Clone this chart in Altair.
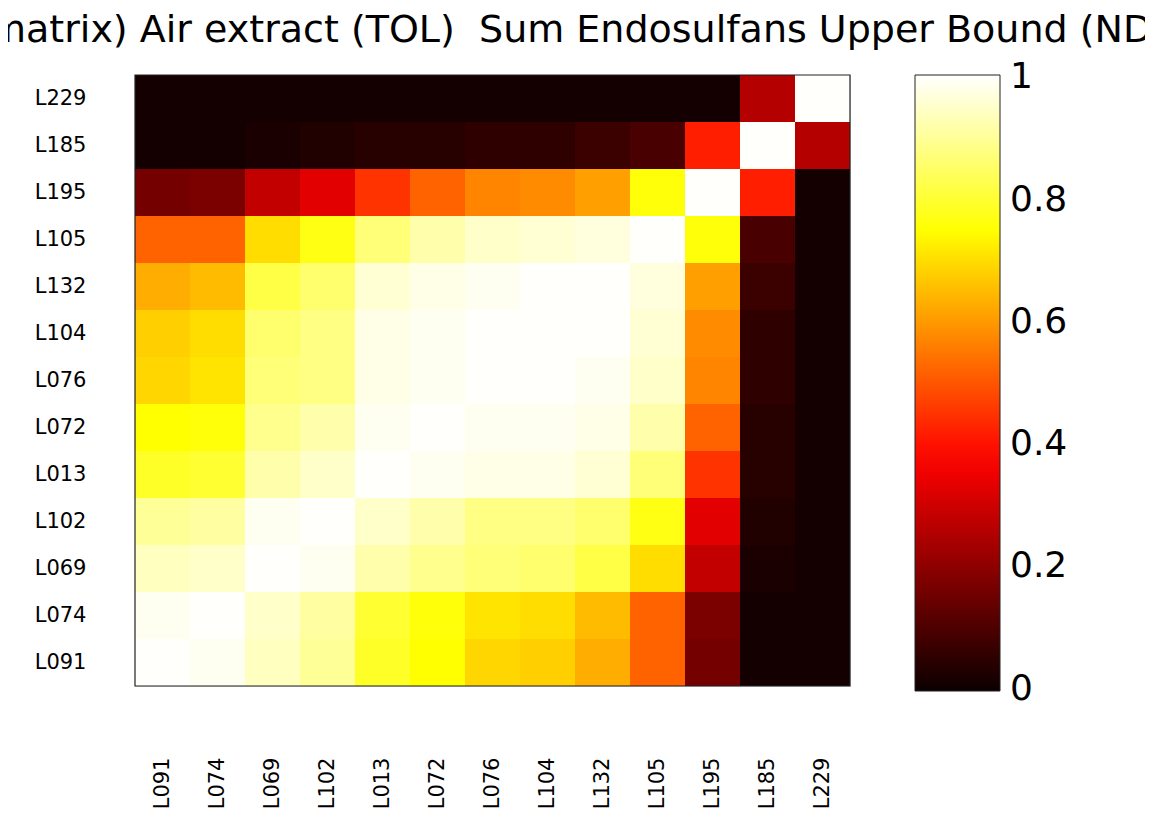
import altair as alt
import pandas as pd

labels = ["L091", "L074", "L069", "L102", "L013", "L072", "L076",
          "L104", "L132", "L105", "L195", "L185", "L229"]

# correlation rows (columns in the same order as `labels`)
row_L091 = [1.00, 0.99, 0.94, 0.90, 0.79, 0.75, 0.69, 0.68, 0.63, 0.52, 0.16, 0.01, 0.01]
row_L074 = [0.99, 1.00, 0.95, 0.91, 0.80, 0.76, 0.71, 0.70, 0.65, 0.52, 0.17, 0.01, 0.01]
row_L069 = [0.94, 0.95, 1.00, 0.99, 0.92, 0.89, 0.87, 0.86, 0.82, 0.70, 0.28, 0.02, 0.01]
row_L102 = [0.90, 0.91, 0.99, 1.00, 0.95, 0.92, 0.88, 0.88, 0.86, 0.77, 0.33, 0.03, 0.01]
row_L013 = [0.79, 0.80, 0.92, 0.95, 1.00, 0.99, 0.98, 0.98, 0.96, 0.87, 0.45, 0.04, 0.01]
row_L072 = [0.75, 0.76, 0.89, 0.92, 0.99, 1.00, 0.99, 0.99, 0.98, 0.92, 0.52, 0.04, 0.01]
row_L076 = [0.69, 0.71, 0.87, 0.88, 0.98, 0.99, 1.00, 1.00, 0.99, 0.95, 0.57, 0.05, 0.01]
row_L104 = [0.68, 0.70, 0.86, 0.88, 0.98, 0.99, 1.00, 1.00, 1.00, 0.96, 0.58, 0.05, 0.01]
row_L132 = [0.63, 0.65, 0.82, 0.86, 0.96, 0.98, 0.99, 1.00, 1.00, 0.97, 0.61, 0.07, 0.01]
row_L105 = [0.52, 0.52, 0.70, 0.77, 0.87, 0.92, 0.95, 0.96, 0.97, 1.00, 0.76, 0.09, 0.01]
row_L195 = [0.16, 0.17, 0.28, 0.33, 0.45, 0.52, 0.57, 0.58, 0.61, 0.76, 1.00, 0.42, 0.01]
row_L185 = [0.01, 0.01, 0.02, 0.03, 0.04, 0.04, 0.05, 0.05, 0.07, 0.09, 0.42, 1.00, 0.26]
row_L229 = [0.01, 0.01, 0.01, 0.01, 0.01, 0.01, 0.01, 0.01, 0.01, 0.01, 0.01, 0.26, 1.00]

rows = [row_L091, row_L074, row_L069, row_L102, row_L013, row_L072, row_L076,
        row_L104, row_L132, row_L105, row_L195, row_L185, row_L229]

colorbar_ticks = [0, 0.2, 0.4, 0.6, 0.8, 1]
title_text = "matrix) Air extract (TOL)\u00a0 Sum Endosulfans Upper Bound (ND"

records = []
for rname, vals in zip(labels, rows):
    for cname, v in zip(labels, vals):
        records.append({"row": rname, "col": cname, "value": v})
df = pd.DataFrame(records)

FONT = "DejaVu Sans"
W, H = 715, 611  # whole-pixel cells (13 x 55, 13 x 47)

# MATLAB "hot" colormap; tiny domain margin keeps colorbar end labels centred
hot_domain = [-0.004, 0.375, 0.75, 1.004]
hot_range = ["#0b0000", "#ff0000", "#ffff00", "#ffffff"]

heat = alt.Chart(df).mark_rect().encode(
    x=alt.X("col:N", sort=labels,
            scale=alt.Scale(paddingInner=0, paddingOuter=0),
            axis=alt.Axis(title=None, labelAngle=270, labelPadding=71, ticks=False,
                          domain=False, labelFontSize=21, labelFont=FONT,
                          labelColor="black")),
    y=alt.Y("row:N", sort=labels[::-1],
            scale=alt.Scale(paddingInner=0, paddingOuter=0),
            axis=alt.Axis(title=None, ticks=False, domain=False, labelPadding=49,
                          labelFontSize=21, labelFont=FONT, labelColor="black")),
    color=alt.Color("value:Q",
                    scale=alt.Scale(domain=hot_domain, range=hot_range, interpolate="rgb"),
                    legend=alt.Legend(title=None, orient="right", offset=65,
                                      direction="vertical", type="gradient",
                                      gradientLength=616, gradientThickness=85,
                                      gradientStrokeColor="#222", gradientStrokeWidth=1,
                                      values=colorbar_ticks, format=".1~f",
                                      labelFontSize=36, labelFont=FONT, labelColor="black",
                                      labelOffset=10,
                                      labelOverlap=False, padding=0)),
)

frame = alt.Chart(pd.DataFrame({"k": [0]})).mark_rect(
    fill=None, stroke="#222", strokeWidth=1.2
).encode(
    x=alt.value(0), x2=alt.value(W), y=alt.value(0), y2=alt.value(H)
)

chart = alt.layer(heat, frame).properties(
    width=W,
    height=H,
    title=alt.TitleParams(text=title_text, anchor="start", frame="group", dx=-146,
                          offset=24, fontSize=38, font=FONT, fontWeight="normal",
                          color="black"),
    autosize=alt.AutoSizeParams(type="none"),
    padding={"left": 127, "top": 67, "right": 295, "bottom": 127},
).configure_view(
    stroke=None
).configure(background="white")

chart.save("out.html", embed_options={"renderer": "svg", "actions": False})
